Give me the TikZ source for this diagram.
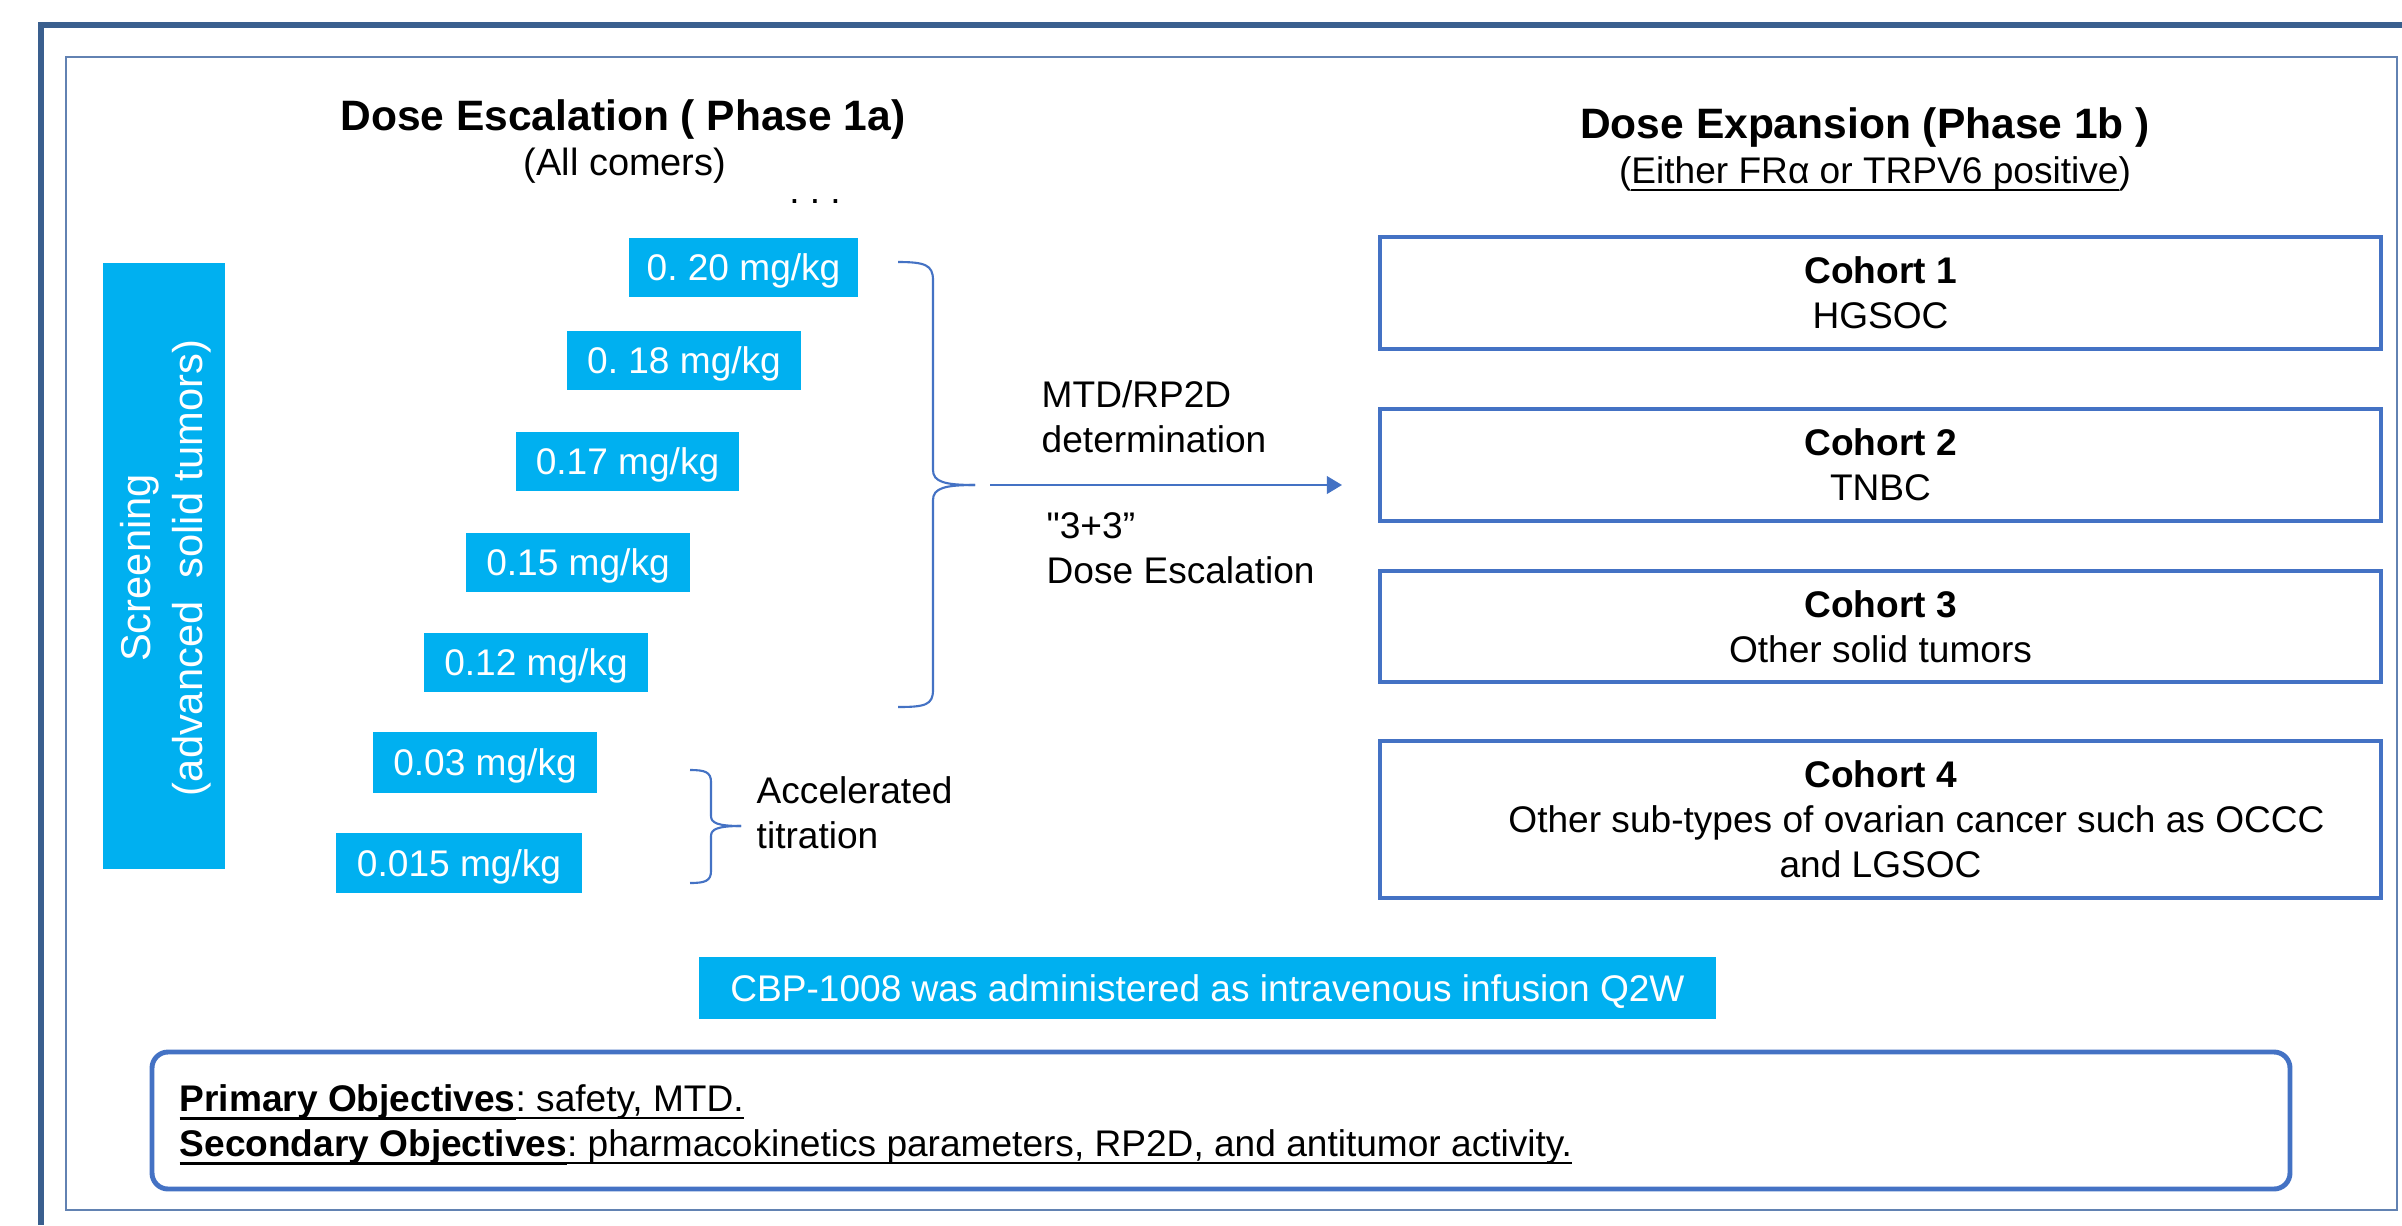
\documentclass[tikz,border=0pt]{standalone}
\usepackage{fontspec}
\setmainfont{Liberation Sans}
\newfontfamily\nomapfont[Ligatures=ResetAll]{Liberation Sans}
\usetikzlibrary{arrows.meta}
\frenchspacing
\definecolor{cyanbox}{HTML}{00B0F0}
\definecolor{bordblue}{HTML}{4472C4}
\definecolor{framedark}{HTML}{3A5F8E}
\definecolor{framethin}{HTML}{6282B2}
\newcommand\szA{\fontsize{10.55pt}{12.8pt}\selectfont}
\newcommand\szT{\fontsize{12.1pt}{14pt}\selectfont}
\newcommand\szB{\fontsize{10.8pt}{13pt}\selectfont}
\newcommand\szS{\fontsize{11.85pt}{14.8pt}\selectfont}
\newcommand\szC{\fontsize{10.55pt}{12.8pt}\selectfont}
\newcommand\myul[1]{\setbox0=\hbox{#1}\rlap{\rule[-0.8mm]{\wd0}{0.2mm}}\box0}
\newcommand\myulb[1]{\setbox0=\hbox{#1}\rlap{\rule[-0.85mm]{\wd0}{0.3mm}}\box0}
\begin{document}
\begin{tikzpicture}[x=0.1mm,y=-0.1mm,
  dosebox/.style={fill=cyanbox, text=white, inner sep=0pt, minimum height=5.9mm, text depth=0pt, font=\szA},
  cohortbox/.style={draw=bordblue, line width=1.3pt, fill=white, inner sep=0pt, minimum width=100.1mm, align=center, font=\szA},
  brace/.style={draw=bordblue, line width=0.6pt},
  lbl/.style={inner sep=0pt, font=\szA},
]
\useasboundingbox (0,0) rectangle (2402,1225);
\fill[white] (0,0) rectangle (2402,1225);
% frames
\draw[framedark, line width=1.7pt] (2402,25) -- (41,25) -- (41,1225);
\draw[framethin, line width=0.45pt] (66,57) rectangle (2397,1210);

% titles
\node[inner sep=0pt, anchor=base, font=\szT\bfseries] (t1a) at (623,130) {Dose Escalation ( Phase 1a)};
\node[inner sep=0pt, anchor=base, font=\szB] (t1a2) at (625,175) {(All comers)};
\node[lbl, anchor=base] (dots) at (815,203) {. . .};
\node[inner sep=0pt, anchor=base, font=\szT\bfseries] (t1b) at (1865,138) {Dose Expansion (Phase 1b )};
\node[inner sep=0pt, anchor=base, font=\szC] (t1b2) at (1875,183) {(\myul{Either FRα or TRPV6 positive})};

% screening
\node[fill=cyanbox, inner sep=0pt, minimum width=12.2mm, minimum height=60.6mm] (scr) at (164,566) {};
\node[rotate=90, text=white, font=\szS, align=center, inner sep=0pt] (scrt) at (166,568) {Screening\\(advanced~~solid tumors)};

% dose boxes
\node[dosebox, minimum width=22.9mm] (d20) at (743.5,267.5) {0. 20 mg/kg};
\node[dosebox, minimum width=23.4mm] (d18) at (684,360.5) {0. 18 mg/kg};
\node[dosebox, minimum width=22.3mm] (d17) at (627.5,461.5) {0.17 mg/kg};
\node[dosebox, minimum width=22.4mm] (d15) at (578,562.5) {0.15 mg/kg};
\node[dosebox, minimum width=22.4mm] (d12) at (536,662.5) {0.12 mg/kg};
\node[dosebox, minimum width=22.4mm, minimum height=6.1mm] (d03) at (485,762.5) {0.03 mg/kg};
\node[dosebox, minimum width=24.6mm, minimum height=6.0mm] (d015) at (459,863) {0.015 mg/kg};

% big brace
\coordinate (bbt) at (898,262);
\coordinate (bbtip) at (975,485);
\coordinate (bbb) at (898,707);
\draw[brace] (bbt) .. controls (925,262) and (933,265) .. (933,280) -- (933,470)
  .. controls (933,482) and (945,485) .. (bbtip);
\draw[brace] (bbtip) .. controls (945,485) and (933,488) .. (933,500) -- (933,690)
  .. controls (933,705) and (925,707) .. (bbb);

% small brace
\coordinate (sbt) at (690,770);
\coordinate (sbtip) at (741,826);
\coordinate (sbb) at (690,883);
\draw[brace] (sbt) .. controls (705,770) and (711,772) .. (711,782) -- (711,816)
  .. controls (711,823) and (718,826) .. (sbtip);
\draw[brace] (sbtip) .. controls (718,826) and (711,829) .. (711,836) -- (711,871)
  .. controls (711,881) and (705,883) .. (sbb);

% arrow
\coordinate (as) at (990,485);
\coordinate (ae) at (1342,485);
\draw[bordblue, line width=0.6pt, -{Triangle[length=4.3pt,width=5pt]}] (as) -- (ae);

% arrow labels
\node[lbl, anchor=base west] (m1) at (1041,407) {MTD/RP2D};
\node[lbl, anchor=base west] (m2) at (1041,452) {determination};
\node[lbl, anchor=base west] (m3) at (1046,538) {{\nomapfont "}3+3”};
\node[lbl, anchor=base west] (m4) at (1046,583) {Dose Escalation};
\node[lbl, anchor=base west] (a1) at (756,803) {Accelerated};
\node[lbl, anchor=base west] (a2) at (756,848) {titration};

% cohorts
\node[cohortbox, minimum height=11.2mm] (c1) at (1880.5,293) {\textbf{Cohort 1}\\HGSOC};
\node[cohortbox, minimum height=11.2mm] (c2) at (1880.5,465) {\textbf{Cohort 2}\\TNBC};
\node[cohortbox, minimum height=11.1mm] (c3) at (1880.5,626.5) {\textbf{Cohort 3}\\Other solid tumors};
\node[cohortbox, minimum height=15.7mm] (c4) at (1880.5,819.5) {\textbf{Cohort 4}\\\hspace*{7.2mm}Other sub-types of ovarian cancer such as OCCC\\and LGSOC};

% CBP box
\node[dosebox, font=\szC, minimum width=101.7mm, minimum height=6.2mm] (cbp) at (1207.5,988) {CBP-1008 was administered as intravenous infusion Q2W};

% objectives
\node[draw=bordblue, line width=1.4pt, rounded corners=1.6mm, minimum width=213.8mm, minimum height=13.7mm, inner sep=0pt] (obj) at (1221,1120.5) {};
\node[lbl, anchor=base west] (o1) at (179,1111) {\myulb{\textbf{Primary Objectives}}\myul{: safety, MTD.}};
\node[lbl, anchor=base west] (o2) at (179,1156) {\myulb{\textbf{Secondary Objectives}}\myul{: pharmacokinetics parameters, RP2D,\ and antitumor activity.}};
\end{tikzpicture}
\end{document}
